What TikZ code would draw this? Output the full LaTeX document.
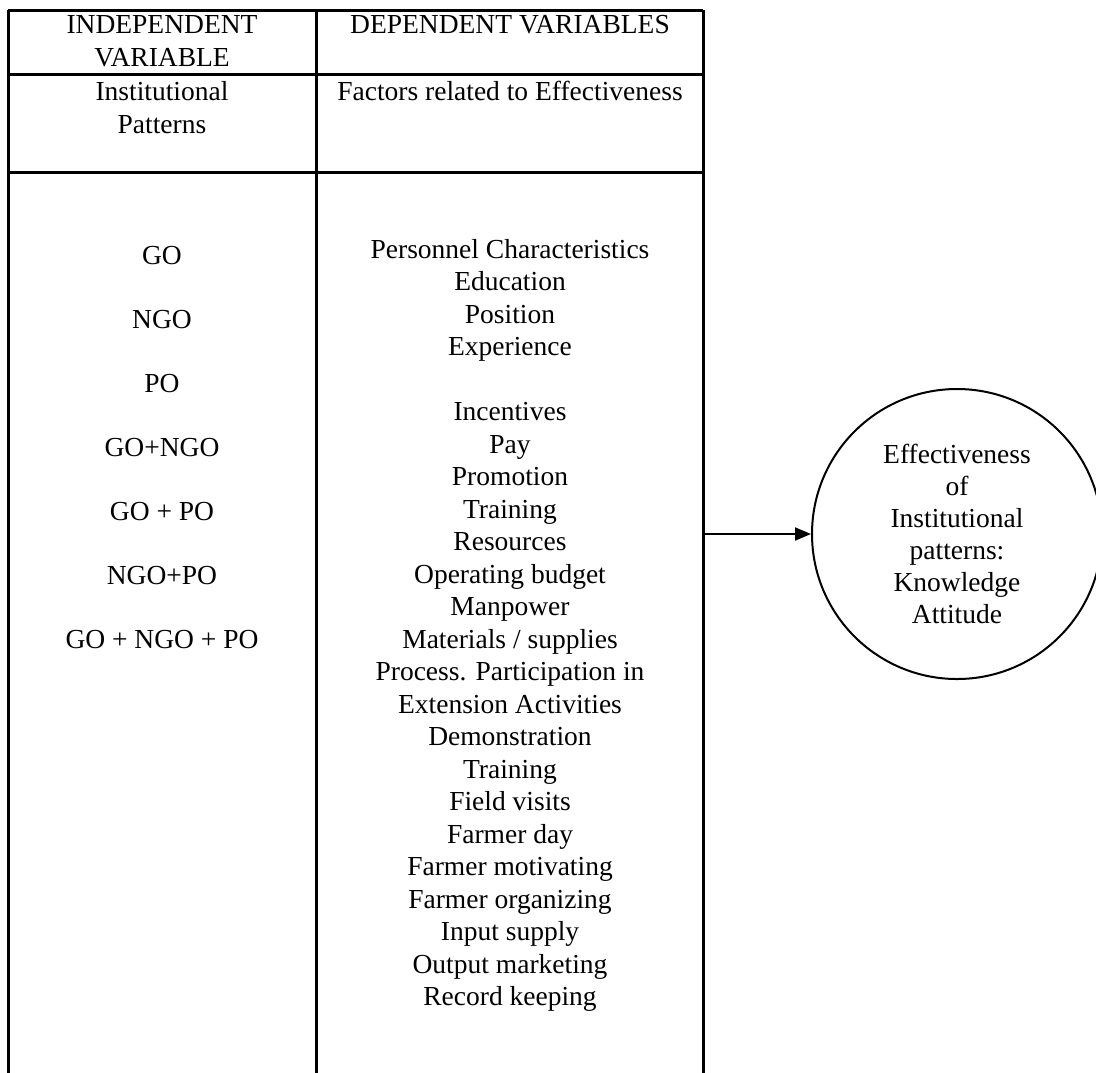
\documentclass[tikz,border=0pt]{standalone}
\usepackage{fontspec}
\setmainfont{Liberation Serif}
\usetikzlibrary{arrows.meta}
\begin{document}
\begin{tikzpicture}[x=0.5pt,y=-0.5pt,
  rule/.style={line width=1.5pt},
  txt/.style={anchor=base,inner sep=0pt,font=\fontsize{13.75}{16.25}\selectfont},
  bubble/.style={draw,circle,line width=1pt,minimum size=145pt,align=center,
    inner sep=0pt,font=\fontsize{13.75}{16}\selectfont},
  link/.style={line width=1pt,-{Triangle[length=8pt,width=6.5pt]}}]
\useasboundingbox (0,0) rectangle (1096,1072);
\clip (0,0) rectangle (1096,1072);

% table frame
\draw[rule] (8,10) -- (703,10);
\draw[rule] (8,74) -- (703,74);
\draw[rule] (8,172) -- (703,172);
\draw[rule] (8,10) -- (8,1080);
\draw[rule] (316,10) -- (316,1080);
\draw[rule] (703,10) -- (703,1080);

% headings
\node[txt] (h1) at (162,33) {INDEPENDENT};
\node[txt] (h2) at (162,66) {VARIABLE};
\node[txt] (h3) at (510,33) {DEPENDENT VARIABLES};
\node[txt] (p1) at (162,100) {Institutional};
\node[txt] (p2) at (162,133) {Patterns};
\node[txt] (f1) at (510,100) {Factors related to Effectiveness};

% institutional patterns
\foreach \i/\t in {0/GO,1/NGO,2/PO,3/GO+NGO,4/GO + PO,5/NGO+PO,6/GO + NGO + PO}
  \node[txt] (g\i) at (162,{264+64*\i}) {\t};

% factors
\foreach \i/\t in {0/Personnel Characteristics,1/Education,2/Position,3/Experience,
  5/Incentives,6/Pay,7/Promotion,8/Training,9/Resources,10/Operating budget,
  11/Manpower,12/{Materials / supplies},13/Process. Participation in,
  14/Extension Activities,15/Demonstration,16/Training,17/Field visits,
  18/Farmer day,19/Farmer motivating,20/Farmer organizing,21/Input supply,
  22/Output marketing,23/Record keeping}
  \node[txt] (d\i) at (510,{258+32.5*\i}) {\t};

% outcome
\node[bubble] (eff) at (957,534) {Effectiveness\\of\\Institutional\\patterns:\\Knowledge\\Attitude};
\coordinate (src) at (703,534);
\draw[link] (src) -- (eff.west);
\end{tikzpicture}
\end{document}
